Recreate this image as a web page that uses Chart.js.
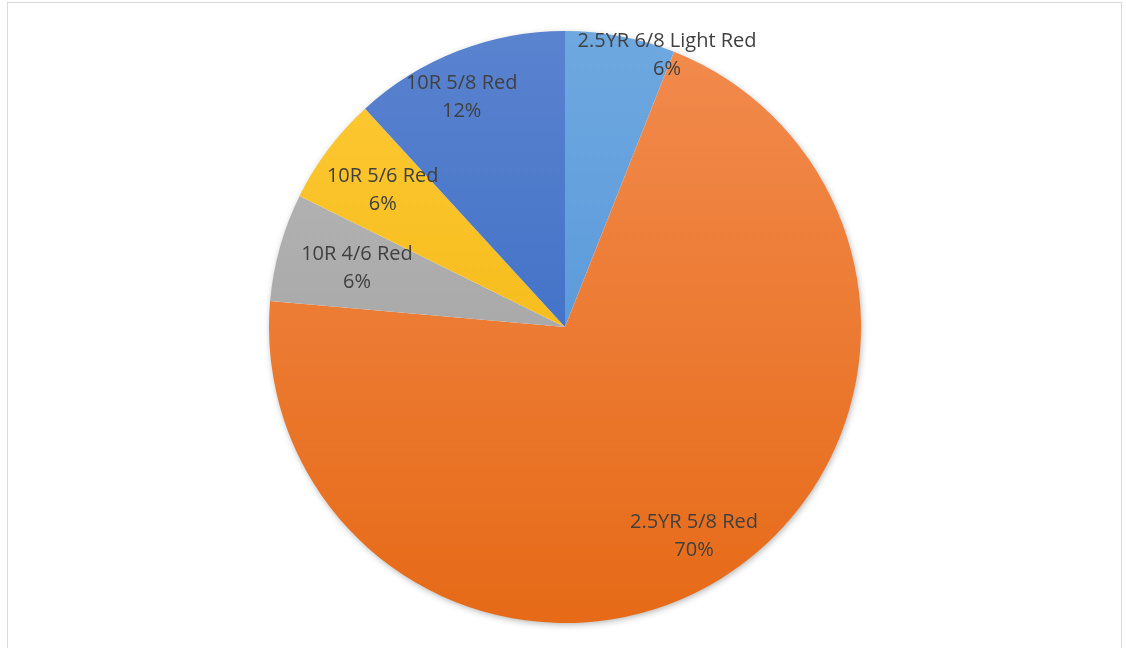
<!DOCTYPE html>
<html>
<head>
<meta charset="utf-8">
<script src="https://cdn.jsdelivr.net/npm/chart.js@4.4.1/dist/chart.umd.min.js"></script>
<style>
    body { margin: 0; background: #fff; }
    #frame {
        position: absolute; left: 7px; top: 2px;
        width: 1113px; height: 660px;
        border: 1.5px solid #d9d9d9;
    }
    #wrap { position: absolute; left: 0; top: 0; width: 1126px; height: 648px; }
</style>
</head>
<body>
<div id="frame"></div>
<div id="wrap"><canvas id="pieChart" width="1126" height="648"></canvas></div>
<script>
// Datos de la gráfica (porcentajes estimados a partir de los ángulos)
const labels = ['2.5YR 6/8 Light Red', '2.5YR 5/8 Red', '10R 4/6 Red', '10R 5/6 Red', '10R 5/8 Red'];
const values = [6, 70.4, 5.9, 5.9, 11.8];

// Colores: claro arriba, oscuro abajo (degradado tipo Excel)
const topColors = ['#6ea8e0', '#f28b4e', '#bababa', '#ffca38', '#5a83cf'];
const bottomColors = ['#4a8ed5', '#e66a17', '#999999', '#ecb000', '#2f63c0'];

// Posición de cada etiqueta: fracción del radio y desplazamiento angular (grados)
const labelRadius = [0.98, 0.83, 0.73, 0.77, 0.85];
const labelShift = [9.8, 0, 0, 0, -3];

const total = values.reduce((a, b) => a + b, 0);

const shadowPlugin = {
    id: 'pieShadow',
    beforeDatasetsDraw(chart) {
        const arc = chart.getDatasetMeta(0).data[0];
        if (!arc) return;
        const ctx = chart.ctx;
        ctx.save();
        ctx.shadowColor = 'rgba(0,0,0,0.35)';
        ctx.shadowBlur = 7;
        ctx.shadowOffsetX = 1;
        ctx.shadowOffsetY = 2;
        ctx.fillStyle = '#ffffff';
        ctx.beginPath();
        ctx.arc(arc.x, arc.y, arc.outerRadius - 1, 0, Math.PI * 2);
        ctx.fill();
        ctx.restore();
    }
};

const labelPlugin = {
    id: 'sliceLabels',
    afterDatasetsDraw(chart) {
        const ctx = chart.ctx;
        const meta = chart.getDatasetMeta(0);
        ctx.save();
        ctx.fillStyle = '#404040';
        ctx.font = '20px "Open Sans", "Noto Sans", sans-serif';
        ctx.textAlign = 'center';
        ctx.textBaseline = 'middle';
        meta.data.forEach((arc, i) => {
            const mid = (arc.startAngle + arc.endAngle) / 2 + labelShift[i] * Math.PI / 180;
            const r = arc.outerRadius * labelRadius[i];
            const x = arc.x + Math.cos(mid) * r;
            const y = arc.y + Math.sin(mid) * r;
            const pct = Math.round(values[i] / total * 100) + '%';
            ctx.fillText(labels[i], x, y - 14);
            ctx.fillText(pct, x, y + 14);
        });
        ctx.restore();
    }
};

const ctx = document.getElementById('pieChart').getContext('2d');
const pieChart = new Chart(ctx, {
    type: 'pie',
    data: {
        labels: labels,
        datasets: [{
            data: values,
            borderWidth: 0,
            backgroundColor: (c) => {
                const area = c.chart.chartArea;
                if (!area) return topColors[c.dataIndex];
                const g = c.chart.ctx.createLinearGradient(0, area.top, 0, area.bottom);
                g.addColorStop(0, topColors[c.dataIndex]);
                g.addColorStop(1, bottomColors[c.dataIndex]);
                return g;
            }
        }]
    },
    options: {
        responsive: false,
        animation: false,
        layout: { padding: { top: 31, bottom: 25, left: 4, right: 0 } },
        plugins: {
            legend: { display: false },
            tooltip: { enabled: false }
        }
    },
    plugins: [shadowPlugin, labelPlugin]
});
</script>
</body>
</html>
